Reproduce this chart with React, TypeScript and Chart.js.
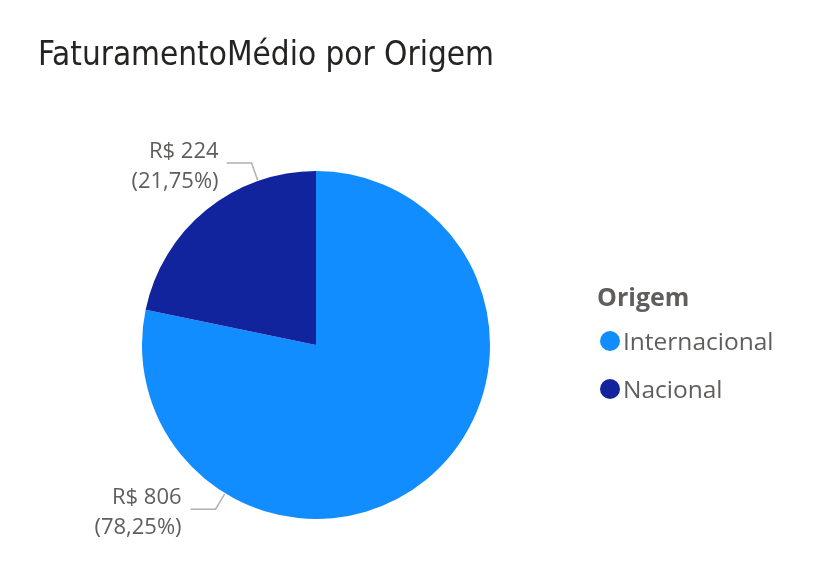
import React, { useEffect, useRef } from "react";
import { Chart, registerables } from "chart.js";

Chart.register(...registerables);

const titleText = "FaturamentoMédio por Origem";
const legendTitle = "Origem";
const categories = ["Internacional", "Nacional"];
const values = [806, 224];
const valueLabels = ["R$ 806", "R$ 224"];
const colors = ["#118DFF", "#12239E"];
// label leader anchor angles (degrees clockwise from top) — styling only
const labelAngles = [211.5, 340.5];

const FONT = "'Segoe UI', 'Open Sans', 'Noto Sans', sans-serif";

const overlayPlugin = {
  id: "overlay",
  afterDraw(chart: any) {
    const ctx = chart.ctx as CanvasRenderingContext2D;
    const meta = chart.getDatasetMeta(0);
    const arc0 = meta.data[0] as any;
    const cx = arc0.x;
    const cy = arc0.y;
    const r = arc0.outerRadius;
    const total = values.reduce((a, b) => a + b, 0);

    ctx.save();
    // title
    ctx.fillStyle = "#252423";
    ctx.font = "33px 'DejaVu Sans Condensed', 'Liberation Sans Narrow', sans-serif";
    ctx.textBaseline = "alphabetic";
    ctx.textAlign = "left";
    ctx.fillText(titleText, 38, 65);

    // data labels
    values.forEach((v, i) => {
      const a = (labelAngles[i] * Math.PI) / 180;
      const sx = cx + (r + 1) * Math.sin(a);
      const sy = cy - (r + 1) * Math.cos(a);
      const down = Math.cos(a) < 0;
      const ex = down ? sx - 9 : sx - 6;
      const ey = down ? sy + 15 : sy - 17;
      const hx = ex - 25;
      ctx.strokeStyle = "#B3B0AD";
      ctx.lineWidth = 1.5;
      ctx.beginPath();
      ctx.moveTo(sx, sy);
      ctx.lineTo(ex, ey);
      ctx.lineTo(hx, ey);
      ctx.stroke();
      const pct = ((v / total) * 100).toFixed(2).replace(".", ",");
      const tx = down ? hx - 9 : hx - 8;
      ctx.fillStyle = "#605E5C";
      ctx.font = `22px ${FONT}`;
      ctx.textAlign = "right";
      ctx.fillText(valueLabels[i], tx, ey - 5);
      ctx.fillText(`(${pct}%)`, tx, ey + 25);
    });

    // legend
    ctx.textAlign = "left";
    ctx.fillStyle = "#605E5C";
    ctx.font = `bold 25px ${FONT}`;
    ctx.fillText(legendTitle, 597, 306);
    categories.forEach((c, i) => {
      const y = 341 + i * 48;
      ctx.fillStyle = colors[i];
      ctx.beginPath();
      ctx.arc(610, y, 10, 0, Math.PI * 2);
      ctx.fill();
      ctx.fillStyle = "#605E5C";
      ctx.font = `24.5px ${FONT}`;
      ctx.fillText(c, 623, y + 9);
    });
    ctx.restore();
  },
};

export default function App() {
  const ref = useRef<HTMLCanvasElement>(null);
  useEffect(() => {
    document.body.style.margin = "0";
    const chart = new Chart(ref.current!, {
      type: "pie",
      data: {
        labels: categories,
        datasets: [
          {
            data: values,
            backgroundColor: colors,
            borderWidth: 0,
          },
        ],
      },
      options: {
        animation: false,
        responsive: false,
        layout: { padding: { left: 142, right: 338, top: 171, bottom: 67 } },
        plugins: {
          legend: { display: false },
          tooltip: { enabled: false },
          title: { display: false },
        },
      },
      plugins: [overlayPlugin],
    });
    return () => chart.destroy();
  }, []);
  return (
    <div style={{ width: 828, height: 586, background: "#fff" }}>
      <canvas ref={ref} width={828} height={586} />
    </div>
  );
}
